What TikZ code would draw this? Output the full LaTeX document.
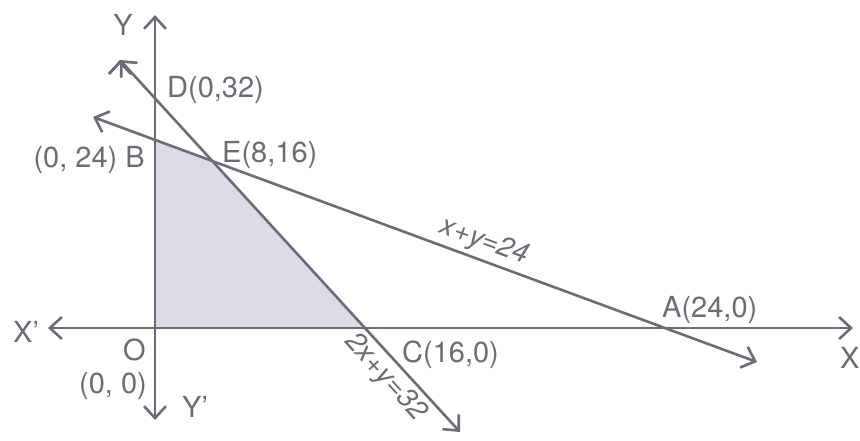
\documentclass[tikz,border=0pt]{standalone}
\usepackage{fontspec}
\setmainfont{TeX Gyre Heros}
\usetikzlibrary{arrows.meta}
\definecolor{inkgray}{HTML}{6C6C76}
\definecolor{regionfill}{HTML}{DCDDE4}

\begin{document}
\begin{tikzpicture}[x=1pt,y=-1pt,
    tip/.style={line width=2.6pt, draw=inkgray, {Straight Barb[length=12pt,width=22pt]}-{Straight Barb[length=12pt,width=22pt]}},
    lbl/.style={text=inkgray, font=\fontsize{29}{34}\selectfont, inner sep=0pt},
    eqn/.style={lbl, sloped, inner sep=4pt, font=\fontsize{28}{34}\selectfont\itshape}]
\useasboundingbox (0,0) rectangle (860,440);
% corner points of the region
\coordinate (O) at (155,328);
\coordinate (B) at (155,140);
\coordinate (E) at (212,161);
\coordinate (C) at (365,328);
% ends of the axes and lines
\coordinate (xl) at (48,328);
\coordinate (xr) at (853,328);
\coordinate (yt) at (155,15);
\coordinate (yb) at (155,420);
\coordinate (pa) at (93,117);
\coordinate (pb) at (757,362);
\coordinate (qa) at (120,60);
\coordinate (qb) at (460,432);
\fill[regionfill] (O) -- (B) -- (E) -- (C) -- cycle;
\path[tip]
    (xl) edge (xr)
    (yt) edge (yb)
    (pa) edge node[eqn, above, pos=0.58]{x+y=24} (pb)
    (qa) edge node[eqn, below, pos=0.82]{2x+y=32} (qb);
\node[lbl] at(123,25)(ylbl){Y};
\node[lbl, anchor=base west] at(167,97)(dlbl){D(0,32)};
\node[lbl, anchor=base east] at(145,167)(blbl){(0, 24) B};
\node[lbl, anchor=base west] at(222,162)(elbl){E(8,16)};
\node[lbl, anchor=base west] at(662,317)(albl){A(24,0)};
\node[lbl, anchor=base west] at(402,362)(clbl){C(16,0)};
\node[lbl, anchor=base west] at(13,342)(xplbl){X'};
\node[lbl, anchor=base west] at(123,360)(olbl){O};
\node[lbl, anchor=base east] at(147,393)(oolbl){(0, 0)};
\node[lbl, anchor=base west] at(182,417)(yplbl){Y'};
\node[lbl, anchor=base west] at(840,368)(xlbl){X};
\end{tikzpicture}
\end{document}
